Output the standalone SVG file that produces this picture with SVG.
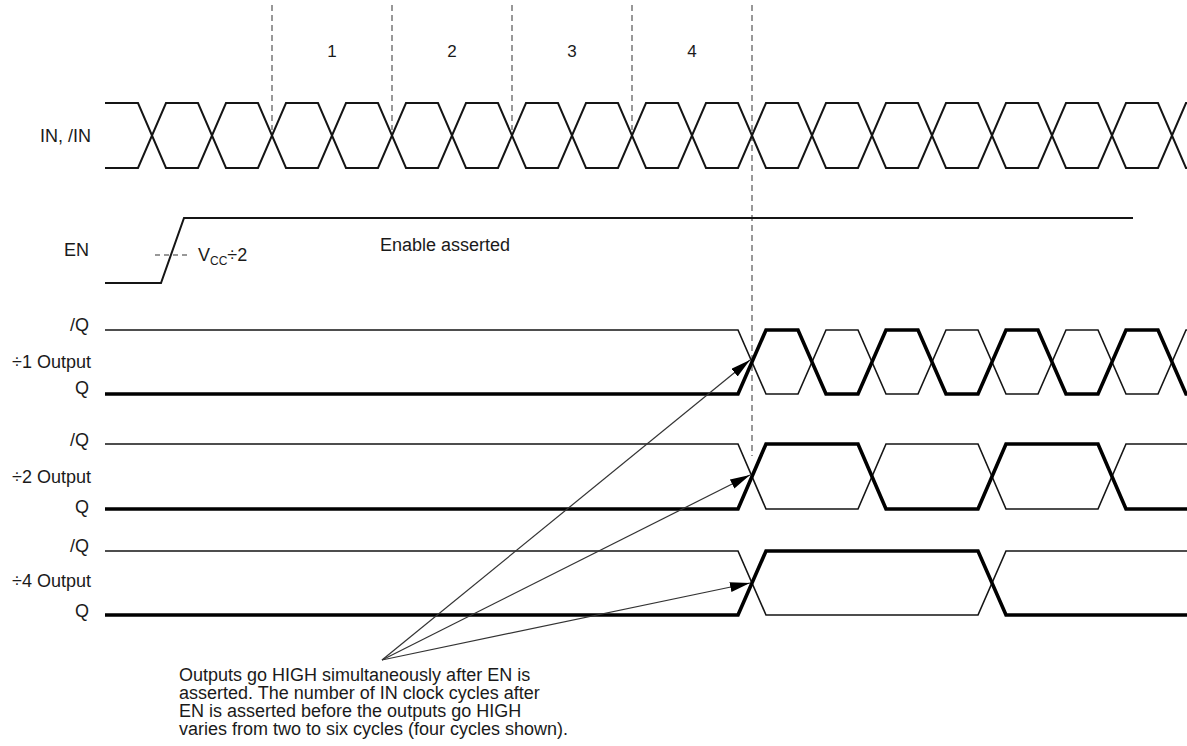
<svg xmlns="http://www.w3.org/2000/svg" width="1187" height="746" viewBox="0 0 1187 746">
<style>
text{font-family:"Liberation Sans",Arial,sans-serif;font-size:18px;fill:#1a1a1a}
.lbl{text-anchor:end}
.num{font-size:17px;text-anchor:middle}
.sig{fill:none;stroke:#151515;stroke-width:2;stroke-linejoin:miter}
.thin{fill:none;stroke:#151515;stroke-width:1.6}
.thick{fill:none;stroke:#000;stroke-width:3.6}
.guide{stroke:#777;stroke-width:1.5;stroke-dasharray:6 4;fill:none}
.arr{stroke:#333;stroke-width:1.2;fill:none}
</style>
<defs>
<marker id="ah" markerUnits="userSpaceOnUse" markerWidth="21" markerHeight="11" refX="20" refY="5" orient="auto">
<path d="M0,0 L20,5 L0,10 z" fill="#000"/>
</marker>
</defs>
<rect width="1187" height="746" fill="#fff"/>

<g id="guides">
<line class="guide" x1="272" y1="5" x2="272" y2="130"/>
<line class="guide" x1="392" y1="5" x2="392" y2="130"/>
<line class="guide" x1="512" y1="5" x2="512" y2="130"/>
<line class="guide" x1="632" y1="5" x2="632" y2="130"/>
<line class="guide" x1="752" y1="5" x2="752" y2="456"/>
</g>

<g id="cycles">
<text class="num" x="332" y="57">1</text>
<text class="num" x="452" y="57">2</text>
<text class="num" x="572" y="57">3</text>
<text class="num" x="692" y="57">4</text>
</g>

<g id="in">
<text class="lbl" x="91" y="142">IN, /IN</text>
<path class="sig" d="M105,103 H138 L166,168 H198 L226,103 H258 L286,168 H318 L346,103 H378 L406,168 H438 L466,103 H498 L526,168 H558 L586,103 H618 L646,168 H678 L706,103 H738 L766,168 H798 L826,103 H858 L886,168 H918 L946,103 H978 L1006,168 H1038 L1066,103 H1098 L1126,168 H1158 L1186,103 H1192"/>
<path class="sig" d="M105,168 H138 L166,103 H198 L226,168 H258 L286,103 H318 L346,168 H378 L406,103 H438 L466,168 H498 L526,103 H558 L586,168 H618 L646,103 H678 L706,168 H738 L766,103 H798 L826,168 H858 L886,103 H918 L946,168 H978 L1006,103 H1038 L1066,168 H1098 L1126,103 H1158 L1186,168 H1192"/>
</g>

<g id="en">
<text class="lbl" x="89" y="256">EN</text>
<path class="sig" d="M105,283 H161 L184,218 H1133"/>
<line class="guide" x1="155" y1="255" x2="189" y2="255" style="stroke-dasharray:5 4"/>
<text x="198" y="261">V<tspan font-size="12" dy="4">CC</tspan><tspan dy="-4">÷2</tspan></text>
<text x="380" y="251">Enable asserted</text>
</g>

<g id="div1">
<text class="lbl" x="89" y="331">/Q</text>
<text class="lbl" x="91" y="368">÷1 Output</text>
<text class="lbl" x="89" y="394">Q</text>
<path class="thin" d="M105,330 H738 L766,394 H798 L826,330 H858 L886,394 H918 L946,330 H978 L1006,394 H1038 L1066,330 H1098 L1126,394 H1158 L1186,330 H1192"/>
<path class="thick" d="M105,394 H738 L766,330 H798 L826,394 H858 L886,330 H918 L946,394 H978 L1006,330 H1038 L1066,394 H1098 L1126,330 H1158 L1186,394 H1192"/>
</g>

<g id="div2">
<text class="lbl" x="89" y="446">/Q</text>
<text class="lbl" x="91" y="483">÷2 Output</text>
<text class="lbl" x="89" y="513">Q</text>
<path class="thin" d="M105,444 H738 L766,509 H858 L886,444 H978 L1006,509 H1098 L1126,444 H1192"/>
<path class="thick" d="M105,509 H738 L766,444 H858 L886,509 H978 L1006,444 H1098 L1126,509 H1192"/>
</g>

<g id="div4">
<text class="lbl" x="89" y="552">/Q</text>
<text class="lbl" x="91" y="587">÷4 Output</text>
<text class="lbl" x="89" y="617">Q</text>
<path class="thin" d="M105,551 H738 L766,615 H978 L1006,551 H1192"/>
<path class="thick" d="M105,615 H738 L766,551 H978 L1006,615 H1192"/>
</g>

<g id="connectors">
<line class="arr" x1="382" y1="660" x2="750" y2="360" marker-end="url(#ah)"/>
<line class="arr" x1="382" y1="660" x2="750" y2="475" marker-end="url(#ah)"/>
<line class="arr" x1="382" y1="660" x2="750" y2="583" marker-end="url(#ah)"/>
</g>

<g id="note">
<text x="179" y="681">Outputs go HIGH simultaneously after EN is</text>
<text x="179" y="699">asserted. The number of IN clock cycles after</text>
<text x="179" y="717">EN is asserted before the outputs go HIGH</text>
<text x="179" y="735">varies from two to six cycles (four cycles shown).</text>
</g>
</svg>
